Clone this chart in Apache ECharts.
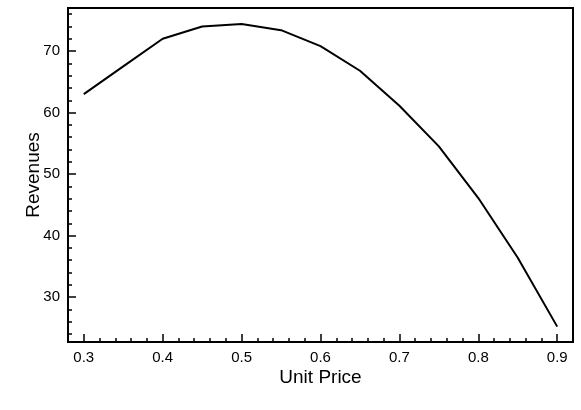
<!DOCTYPE html>
<html>
<head>
<meta charset="utf-8">
<script src="https://cdn.jsdelivr.net/npm/echarts@6/dist/echarts.min.js"></script>
<style>
  html, body { margin: 0; padding: 0; background: #fff; }
  #chart { width: 581px; height: 410px; }
</style>
</head>
<body>
<div id="chart"></div>
<script>
var unitPrice = [0.3, 0.35, 0.4, 0.45, 0.5, 0.55, 0.6, 0.65, 0.7, 0.75, 0.8, 0.85, 0.9]
var revenues = [63, 67.5, 72, 74, 74.4, 73.4, 70.8, 66.8, 61.1, 54.5, 46.1, 36.4, 25.2]
var xTicks = [0.3, 0.4, 0.5, 0.6, 0.7, 0.8, 0.9]
var yTicks = [30, 40, 50, 60, 70]

var font = 'Liberation Sans, Arial, Helvetica, sans-serif'

// minor ticks: 5 steps per major on x, 2 units on y
var xMinor = []
for (var i = 16; i <= 46; i++) {
  if (i % 5 !== 0) xMinor.push(i / 50)
}
var yMinor = []
for (var v = 24; v <= 76; v += 2) {
  if (v % 10 !== 0) yMinor.push(v)
}

var xMin = 0.28, xMax = 0.92
var yMin = 22.7, yMax = 77

var chart = echarts.init(document.getElementById('chart'), null, { renderer: 'canvas' })

var baseTick = { show: true, inside: true, lineStyle: { color: '#000', width: 1.5 } }

chart.setOption({
  animation: false,
  grid: {
    left: 68,
    right: 8,
    top: 8,
    bottom: 68,
    show: true,
    borderColor: '#000',
    borderWidth: 2,
    backgroundColor: 'transparent'
  },
  xAxis: [{
    type: 'value',
    min: xMin,
    max: xMax,
    name: 'Unit Price',
    nameLocation: 'middle',
    nameGap: 26,
    nameMoveOverlap: false,
    nameTextStyle: { fontFamily: font, fontSize: 19, color: '#000' },
    axisLine: { show: false },
    splitLine: { show: false },
    axisTick: Object.assign({}, baseTick, { length: 8, customValues: xTicks }),
    axisLabel: {
      customValues: xTicks,
      margin: 8,
      fontFamily: font,
      fontSize: 15,
      color: '#000',
      formatter: function (v) { return v.toFixed(1) }
    }
  }, {
    type: 'value',
    min: xMin,
    max: xMax,
    position: 'bottom',
    axisLine: { show: false },
    splitLine: { show: false },
    axisLabel: { show: false },
    axisTick: Object.assign({}, baseTick, { length: 4, customValues: xMinor })
  }],
  yAxis: [{
    type: 'value',
    min: yMin,
    max: yMax,
    name: 'Revenues',
    nameLocation: 'middle',
    nameGap: 25,
    nameMoveOverlap: false,
    nameTextStyle: { fontFamily: font, fontSize: 19, color: '#000' },
    axisLine: { show: false },
    splitLine: { show: false },
    axisTick: Object.assign({}, baseTick, { length: 8, customValues: yTicks }),
    axisLabel: {
      customValues: yTicks,
      margin: 8,
      fontFamily: font,
      fontSize: 15,
      color: '#000'
    }
  }, {
    type: 'value',
    min: yMin,
    max: yMax,
    position: 'left',
    axisLine: { show: false },
    splitLine: { show: false },
    axisLabel: { show: false },
    axisTick: Object.assign({}, baseTick, { length: 4, customValues: yMinor })
  }],
  series: [{
    type: 'line',
    xAxisIndex: 0,
    yAxisIndex: 0,
    data: unitPrice.map(function (p, i) { return [p, revenues[i]] }),
    showSymbol: false,
    symbol: 'none',
    lineStyle: { color: '#000', width: 2 }
  }]
})
</script>
</body>
</html>
